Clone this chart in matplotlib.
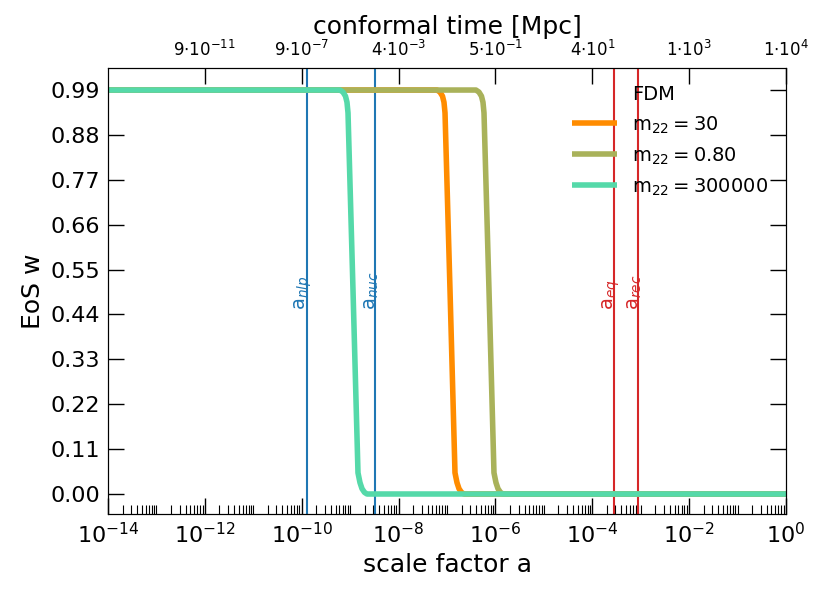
import numpy as np
import matplotlib
matplotlib.use("Agg")
import matplotlib.pyplot as plt
from matplotlib.ticker import LogLocator, FixedLocator, NullFormatter, NullLocator

# ---- data ----
# log10(a) and EoS w for each FDM mass
w_vals = [0.99, 0.99, 0.985, 0.975, 0.96, 0.934, 0.50, 0.052, 0.028, 0.013, 0.004, 0.0, 0.0]
loga_m30 = [-14, -7.207, -7.145, -7.093, -7.062, -7.041, -6.938, -6.835, -6.794, -6.752, -6.701, -6.649, 0]
loga_m080 = [-14, -6.402, -6.340, -6.288, -6.257, -6.236, -6.133, -6.030, -5.989, -5.947, -5.896, -5.844, 0]
loga_m3e5 = [-14, -9.210, -9.148, -9.096, -9.065, -9.044, -8.941, -8.838, -8.797, -8.755, -8.704, -8.652, 0]
series_labels = [r'm$_{22}=30$', r'm$_{22}=0.80$', r'm$_{22}=300000$']
series_colors = ['#ff8c00', '#a9b25a', '#55d9a9']

# characteristic scale factors
a_nlp = 1.27e-10
a_nuc = 3.26e-9
a_eq = 2.84e-4
a_rec = 8.9e-4

yticks = [0.00, 0.11, 0.22, 0.33, 0.44, 0.55, 0.66, 0.77, 0.88, 0.99]
xmajor = [1e-14, 1e-12, 1e-10, 1e-8, 1e-6, 1e-4, 1e-2, 1e0]
top_labels = [r'$9{\cdot}10^{-11}$', r'$9{\cdot}10^{-7}$', r'$4{\cdot}10^{-3}$',
              r'$5{\cdot}10^{-1}$', r'$4{\cdot}10^{1}$', r'$1{\cdot}10^{3}$', r'$1{\cdot}10^{4}$']
top_pos = [1e-12, 1e-10, 1e-8, 1e-6, 1e-4, 1e-2, 1e0]

fig = plt.figure(figsize=(8.3, 5.93), dpi=100)
ax = fig.add_axes([108/830, 1-514/593, (786-108)/830, (514-68)/593])

# vertical markers
ax.axvline(a_nlp, color='#1f77b4', lw=1.5)
ax.axvline(a_nuc, color='#1f77b4', lw=1.5)
ax.axvline(a_eq, color='#d62728', lw=1.5)
ax.axvline(a_rec, color='#d62728', lw=1.5)

ax.plot([], [], ' ', label='FDM')
for la, lab, col in zip([loga_m30, loga_m080, loga_m3e5], series_labels, series_colors):
    ax.plot(10.0**np.array(la), w_vals, color=col, lw=4.0, label=lab,
            solid_joinstyle='round', solid_capstyle='butt')

for xv, txt, col in [(a_nlp, r'a$_{nlp}$', '#1f77b4'), (a_nuc, r'a$_{nuc}$', '#1f77b4'),
                     (a_eq, r'a$_{eq}$', '#d62728'), (a_rec, r'a$_{rec}$', '#d62728')]:
    ax.annotate(txt, (xv, 0.45), xytext=(-2.5, 0), textcoords='offset points',
                rotation=90, ha='center', va='bottom', color=col, fontsize=14)

ax.set_xscale('log')
ax.set_xlim(1e-14, 1)
ax.set_ylim(-0.049, 1.044)
ax.set_yticks(yticks)
ax.set_yticklabels(['%.2f' % v for v in yticks])
ax.xaxis.set_major_locator(FixedLocator(xmajor))
ax.xaxis.set_minor_locator(LogLocator(base=10, subs=np.arange(1, 10), numticks=200))
ax.xaxis.set_minor_formatter(NullFormatter())
ax.tick_params(axis='x', which='major', direction='in', length=11.5, width=1, labelsize=16,
               top=False, bottom=True, pad=6)
ax.tick_params(axis='x', which='minor', direction='in', length=6.5, width=0.8, top=False)
ax.tick_params(axis='y', which='major', direction='in', length=11.5, width=1, labelsize=16,
               left=True, right=True, pad=5.5)
ax.set_xlabel('scale factor a', fontsize=18)
ax.set_ylabel('EoS w', fontsize=18)

ax2 = ax.twiny()
ax2.set_xscale('log')
ax2.set_xlim(ax.get_xlim())
ax2.xaxis.set_major_locator(FixedLocator(top_pos))
ax2.set_xticklabels(top_labels)
ax2.xaxis.set_minor_locator(NullLocator())
ax2.tick_params(axis='x', which='major', direction='in', length=11.5, width=1, labelsize=12, pad=6)
ax2.set_xlabel('conformal time [Mpc]', fontsize=18)

leg = ax.legend(frameon=False, fontsize=14, loc='upper right', handlelength=2.3,
                labelspacing=0.5)

fig.savefig('out.png', dpi=100)
